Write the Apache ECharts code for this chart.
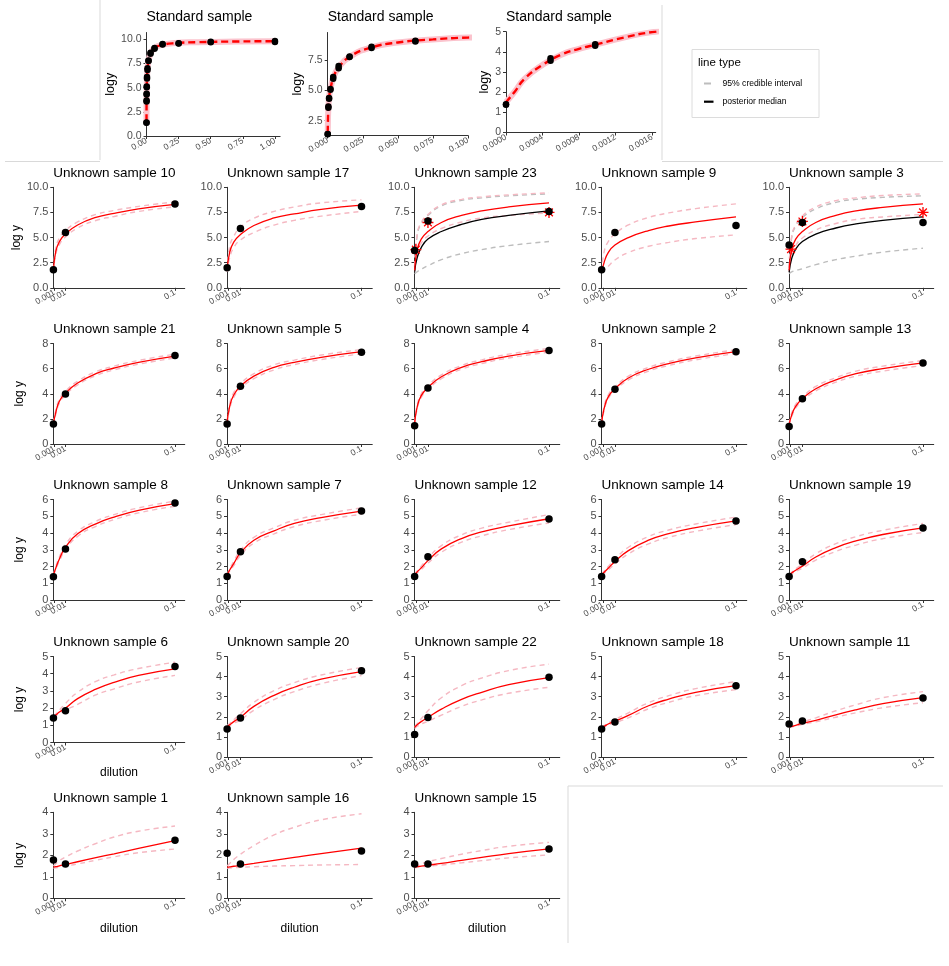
<!DOCTYPE html>
<html>
<head>
<meta charset="utf-8">
<script src="https://cdn.jsdelivr.net/npm/echarts@6/dist/echarts.min.js"></script>
<style>
  html, body { margin: 0; padding: 0; background: #fff; }
  #chart { width: 949px; height: 966px; }
</style>
</head>
<body>
<div id="chart"></div>
<script>
// ---- standard sample (duplicates per dilution) ----
const stdDilution = [0, 0.000488, 0.000977, 0.00195, 0.0039, 0.0078, 0.0156, 0.03125, 0.0625, 0.125, 0.25, 0.5, 1]
const stdLogyA = [1.38, 3.56, 4.30, 5.05, 5.95, 6.82, 7.75, 8.50, 9.03, 9.45, 9.55, 9.68, 9.72]
const stdLogyB = [1.40, 3.68, 4.38, 5.12, 6.10, 7.01, 7.80, 8.60, 9.10, 9.50, 9.60, 9.75, 9.82]
const stdCurveX = [0, 0.0001, 0.0002, 0.0004, 0.0006, 0.0008, 0.001, 0.0013, 0.0016, 0.002, 0.004, 0.008, 0.016, 0.03, 0.05, 0.075, 0.1, 0.2, 0.4, 0.7, 1.0]
const stdCurveY = [1.5, 2.05, 2.65, 3.35, 3.85, 4.15, 4.38, 4.72, 4.98, 5.15, 6.05, 6.92, 7.8, 8.5, 8.95, 9.2, 9.35, 9.58, 9.7, 9.77, 9.8]

// ---- unknown samples, in panel order (row by row) ----
const sampleNames = [
  'Unknown sample 10', 'Unknown sample 17', 'Unknown sample 23', 'Unknown sample 9', 'Unknown sample 3',
  'Unknown sample 21', 'Unknown sample 5', 'Unknown sample 4', 'Unknown sample 2', 'Unknown sample 13',
  'Unknown sample 8', 'Unknown sample 7', 'Unknown sample 12', 'Unknown sample 14', 'Unknown sample 19',
  'Unknown sample 6', 'Unknown sample 20', 'Unknown sample 22', 'Unknown sample 18', 'Unknown sample 11',
  'Unknown sample 1', 'Unknown sample 16', 'Unknown sample 15'
]
const pointX = [0.0001, 0.01, 0.1]
const pointLogY = [
  [1.8, 5.5, 8.35], [2.0, 5.9, 8.1], [3.7, 6.65, 7.6], [1.8, 5.5, 6.2], [4.27, 6.5, 6.5],
  [1.6, 3.98, 7.05], [1.6, 4.6, 7.3], [1.45, 4.46, 7.45], [1.6, 4.35, 7.35], [1.4, 3.6, 6.44],
  [1.39, 3.05, 5.79], [1.4, 2.88, 5.31], [1.4, 2.58, 4.84], [1.4, 2.4, 4.72], [1.4, 2.28, 4.3],
  [1.42, 1.84, 4.42], [1.39, 1.94, 4.29], [1.12, 1.97, 3.97], [1.39, 1.74, 3.54], [1.64, 1.79, 2.94],
  [1.78, 1.6, 2.7], [2.09, 1.6, 2.2], [1.6, 1.6, 2.29]
]
const curveX = [0.0001, 0.002, 0.005, 0.01, 0.02, 0.035, 0.05, 0.07, 0.1]
const medianLogY = [
  [1.7, 3.6, 4.6, 5.35, 6.25, 7.0, 7.4, 7.85, 8.3],
  [1.7, 3.55, 4.55, 5.3, 6.2, 6.95, 7.35, 7.8, 8.22],
  [1.75, 3.8, 4.85, 5.6, 6.5, 7.2, 7.65, 8.05, 8.45],
  [1.55, 2.55, 3.5, 4.25, 5.0, 5.7, 6.15, 6.55, 7.05],
  [1.75, 3.8, 4.85, 5.6, 6.5, 7.2, 7.65, 8.0, 8.35],
  [1.6, 2.5, 3.4, 4.05, 4.85, 5.6, 6.05, 6.5, 7.0],
  [1.7, 3.0, 3.9, 4.6, 5.4, 6.1, 6.5, 6.9, 7.35],
  [1.65, 2.95, 3.85, 4.5, 5.35, 6.1, 6.55, 7.0, 7.45],
  [1.65, 2.85, 3.75, 4.4, 5.25, 5.95, 6.4, 6.85, 7.35],
  [1.55, 2.3, 3.0, 3.6, 4.4, 5.1, 5.6, 6.0, 6.45],
  [1.5, 1.9, 2.45, 3.15, 3.95, 4.55, 4.95, 5.35, 5.75],
  [1.5, 1.79, 2.17, 2.81, 3.57, 4.13, 4.57, 4.92, 5.31],
  [1.51, 1.68, 1.92, 2.35, 3.05, 3.67, 4.06, 4.42, 4.85],
  [1.51, 1.66, 1.9, 2.3, 2.95, 3.57, 3.96, 4.32, 4.72],
  [1.5, 1.61, 1.78, 2.02, 2.57, 3.13, 3.53, 3.91, 4.3],
  [1.5, 1.6, 1.77, 2.0, 2.55, 3.1, 3.5, 3.9, 4.28],
  [1.5, 1.6, 1.76, 1.98, 2.52, 3.07, 3.47, 3.87, 4.25],
  [1.47, 1.6, 1.76, 1.97, 2.38, 2.87, 3.22, 3.6, 3.95],
  [1.5, 1.53, 1.64, 1.78, 2.07, 2.55, 2.88, 3.22, 3.55],
  [1.5, 1.52, 1.57, 1.68, 1.82, 2.1, 2.35, 2.65, 2.95],
  [1.45, 1.47, 1.51, 1.57, 1.7, 1.89, 2.07, 2.32, 2.68],
  [1.44, 1.46, 1.49, 1.53, 1.62, 1.76, 1.9, 2.08, 2.33],
  [1.45, 1.47, 1.5, 1.54, 1.62, 1.76, 1.9, 2.08, 2.3]
]
const lowerLogY = [
  [1.6, 3.3, 4.3, 5.05, 5.95, 6.7, 7.1, 7.6, 8.05],
  [1.58, 2.97, 4.0, 4.76, 5.5, 6.24, 6.71, 7.13, 7.6],
  [1.6, 3.4, 4.45, 5.15, 5.9, 6.55, 6.95, 7.2, 7.45],
  [1.51, 1.78, 2.14, 2.77, 3.51, 4.13, 4.52, 4.9, 5.26],
  [1.6, 3.2, 4.2, 4.95, 5.75, 6.4, 6.8, 7.05, 7.3],
  [1.5, 2.35, 3.25, 3.9, 4.7, 5.45, 5.9, 6.35, 6.85],
  [1.6, 2.8, 3.7, 4.4, 5.2, 5.9, 6.32, 6.72, 7.18],
  [1.55, 2.8, 3.7, 4.35, 5.2, 5.95, 6.4, 6.85, 7.3],
  [1.55, 2.7, 3.6, 4.25, 5.1, 5.8, 6.25, 6.7, 7.2],
  [1.5, 2.15, 2.85, 3.45, 4.22, 4.92, 5.4, 5.8, 6.25],
  [1.48, 1.82, 2.33, 3.0, 3.8, 4.4, 4.8, 5.2, 5.6],
  [1.48, 1.72, 2.05, 2.65, 3.4, 3.95, 4.38, 4.74, 5.12],
  [1.49, 1.62, 1.82, 2.2, 2.85, 3.45, 3.83, 4.2, 4.6],
  [1.49, 1.6, 1.8, 2.15, 2.75, 3.35, 3.74, 4.1, 4.5],
  [1.48, 1.56, 1.7, 1.9, 2.38, 2.9, 3.28, 3.66, 4.03],
  [1.48, 1.56, 1.7, 1.88, 2.22, 2.77, 3.12, 3.52, 3.9],
  [1.45, 1.55, 1.68, 1.84, 2.33, 2.86, 3.25, 3.65, 4.05],
  [1.42, 1.53, 1.64, 1.78, 2.08, 2.52, 2.84, 3.17, 3.47],
  [1.48, 1.5, 1.59, 1.7, 1.95, 2.4, 2.72, 3.05, 3.35],
  [1.48, 1.5, 1.54, 1.62, 1.75, 1.98, 2.2, 2.45, 2.7],
  [1.4, 1.42, 1.45, 1.5, 1.6, 1.77, 1.93, 2.12, 2.29],
  [1.4, 1.41, 1.42, 1.44, 1.47, 1.5, 1.52, 1.55, 1.57],
  [1.42, 1.44, 1.46, 1.49, 1.55, 1.65, 1.75, 1.88, 2.02]
]
const upperLogY = [
  [1.8, 3.9, 4.95, 5.7, 6.55, 7.3, 7.7, 8.1, 8.55],
  [1.74, 4.13, 5.12, 6.03, 6.92, 7.6, 8.04, 8.45, 8.75],
  [2.17, 5.31, 6.5, 7.3, 8.25, 8.8, 9.05, 9.25, 9.45],
  [1.65, 3.6, 4.6, 5.35, 6.25, 7.0, 7.45, 7.88, 8.35],
  [2.05, 5.12, 6.27, 7.16, 8.04, 8.68, 8.95, 9.18, 9.35],
  [1.7, 2.65, 3.55, 4.2, 5.0, 5.75, 6.2, 6.65, 7.15],
  [1.8, 3.2, 4.1, 4.8, 5.6, 6.3, 6.68, 7.08, 7.52],
  [1.75, 3.1, 4.0, 4.65, 5.5, 6.25, 6.7, 7.15, 7.6],
  [1.75, 3.0, 3.9, 4.55, 5.4, 6.1, 6.55, 7.0, 7.5],
  [1.6, 2.45, 3.15, 3.75, 4.58, 5.28, 5.8, 6.2, 6.65],
  [1.52, 1.98, 2.57, 3.3, 4.1, 4.7, 5.1, 5.5, 5.9],
  [1.52, 1.86, 2.3, 2.97, 3.74, 4.31, 4.76, 5.1, 5.5],
  [1.53, 1.74, 2.02, 2.5, 3.25, 3.89, 4.29, 4.64, 5.1],
  [1.53, 1.72, 2.0, 2.45, 3.15, 3.79, 4.18, 4.54, 4.95],
  [1.52, 1.66, 1.86, 2.15, 2.76, 3.36, 3.78, 4.16, 4.57],
  [1.52, 1.65, 1.88, 2.27, 2.92, 3.55, 3.93, 4.3, 4.67],
  [1.55, 1.66, 1.85, 2.15, 2.72, 3.3, 3.7, 4.08, 4.45],
  [1.5, 1.66, 1.9, 2.3, 2.95, 3.55, 3.93, 4.3, 4.62],
  [1.52, 1.56, 1.7, 1.87, 2.2, 2.7, 3.05, 3.4, 3.75],
  [1.52, 1.55, 1.62, 1.74, 1.95, 2.3, 2.6, 2.95, 3.25],
  [1.5, 1.6, 1.75, 1.92, 2.2, 2.55, 2.85, 3.12, 3.36],
  [1.5, 1.62, 1.8, 2.05, 2.45, 2.95, 3.3, 3.65, 3.93],
  [1.48, 1.52, 1.6, 1.7, 1.85, 2.05, 2.22, 2.42, 2.6]
]

// second fit (black / grey) and starred values, only for samples 23 and 3
const altSamples = ['Unknown sample 23', 'Unknown sample 3']
const altMedian = [
  [1.6, 3.0, 4.0, 4.85, 5.6, 6.3, 6.8, 7.2, 7.65],
  [1.55, 2.9, 3.85, 4.6, 5.35, 5.95, 6.35, 6.7, 7.05]
]
const altLower = [
  [1.4, 1.6, 1.85, 2.2, 2.8, 3.4, 3.8, 4.2, 4.6],
  [1.4, 1.58, 1.72, 1.9, 2.3, 2.8, 3.15, 3.55, 3.94]
]
const altUpper = [
  [2.1, 5.2, 6.4, 7.2, 8.15, 8.7, 8.95, 9.15, 9.35],
  [2.0, 5.0, 6.15, 7.0, 7.85, 8.5, 8.8, 9.0, 9.15]
]
const starX = [[0.001, 0.01, 0.1], [0.0015, 0.01, 0.1]]
const starLogY = [[3.8, 6.5, 7.5], [3.85, 6.6, 7.5]]

const xTickValues = [0.0001, 0.001, 0.01, 0.1]
const rowYTicks = [[0, 2.5, 5, 7.5, 10], [0, 2, 4, 6, 8], [0, 1, 2, 3, 4, 5, 6], [0, 1, 2, 3, 4, 5], [0, 1, 2, 3, 4]]
const dilutionTitled = ['Unknown sample 6', 'Unknown sample 1', 'Unknown sample 16', 'Unknown sample 15']

// ---- layout ----
const colLeft = [53.3, 227, 414.5, 601.5, 789]
const colSpan = [121.7, 134.5, 134.5, 134.5, 134]   // px for 0.1
const rowTop = [187.3, 343.5, 499.5, 656.5, 812.3]
const FONT = 'Liberation Sans, Arial, sans-serif'
const PINK = '#F5B8C2'
const GREY = '#BDBDBD'

const grid = [], xAxis = [], yAxis = [], series = [], graphic = []

const axisLine = { show: true, onZero: false, lineStyle: { color: '#333', width: 1 } }
function tick(values) { return { show: true, length: 3, customValues: values, lineStyle: { color: '#333' } } }
function pairs(xs, ys) { return xs.map((x, i) => [x, ys[i]]) }

function line(gi, xs, ys, lineStyle, z) {
  series.push({
    type: 'line', xAxisIndex: gi, yAxisIndex: gi, data: pairs(xs, ys),
    smooth: 0.5, symbol: 'none', lineStyle, z: z || 2, silent: true
  })
}
function dots(gi, xs, ys, size) {
  series.push({
    type: 'scatter', xAxisIndex: gi, yAxisIndex: gi, data: pairs(xs, ys),
    symbolSize: size, itemStyle: { color: '#000', opacity: 1 }, z: 5, silent: true
  })
}
function title(text, x, y, size) {
  graphic.push({ type: 'text', x, y, style: { text, font: `${size}px ${FONT}`, fill: '#000', verticalAlign: 'middle' } })
}

// ---- standard sample panels ----
const stdPanels = [
  { left: 146.5, top: 32.5, width: 133.6, height: 103.5, xMax: 1.04, xTicks: [0, 0.25, 0.5, 0.75, 1], xDigits: 2,
    yMin: 0, yMax: 10.7, yTicks: [0, 2.5, 5, 7.5, 10], yDigits: 1, nameGap: 29 },
  { left: 327.7, top: 32.5, width: 140.3, height: 103, xMax: 0.1, xTicks: [0, 0.025, 0.05, 0.075, 0.1], xDigits: 3,
    yMin: 1.28, yMax: 9.77, yTicks: [2.5, 5, 7.5], yDigits: 1, nameGap: 22 },
  { left: 506, top: 31.7, width: 149.7, height: 100.8, xMax: 0.00164, xTicks: [0, 0.0004, 0.0008, 0.0012, 0.0016], xDigits: 4,
    yMin: 0, yMax: 5, yTicks: [0, 1, 2, 3, 4, 5], yDigits: 0, nameGap: 15 }
]
stdPanels.forEach(p => {
  const gi = grid.length
  grid.push({ left: p.left, top: p.top, width: p.width, height: p.height })
  xAxis.push({
    type: 'value', gridIndex: gi, min: 0, max: p.xMax, splitLine: { show: false }, axisLine, axisTick: tick(p.xTicks),
    axisLabel: { customValues: p.xTicks, rotate: 30, fontSize: 8.5, color: '#4d4d4d', margin: 4, fontFamily: FONT,
      formatter: v => v.toFixed(p.xDigits) }
  })
  yAxis.push({
    type: 'value', gridIndex: gi, min: p.yMin, max: p.yMax, splitLine: { show: false }, axisLine, axisTick: tick(p.yTicks),
    axisLabel: { customValues: p.yTicks, fontSize: 10.5, color: '#4d4d4d', margin: 5, fontFamily: FONT,
      formatter: v => v.toFixed(p.yDigits) },
    name: 'logy', nameLocation: 'middle', nameRotate: 90, nameGap: p.nameGap,
    nameTextStyle: { fontSize: 12.5, color: '#000', fontFamily: FONT }
  })
  line(gi, stdCurveX, stdCurveY, { color: '#FBC3CD', width: 6 }, 2)
  line(gi, stdCurveX, stdCurveY, { color: '#FF0000', width: 2.4, type: [7, 4] }, 3)
  dots(gi, stdDilution, stdLogyA, 6.5)
  dots(gi, stdDilution, stdLogyB, 6.5)
  title('Standard sample', p.left, 17.5, 14)
})

// ---- unknown sample panels ----
const starSymbol = 'path://M10 0 L10 20 M0 10 L20 10 M3 3 L17 17 M3 17 L17 3'
sampleNames.forEach((name, k) => {
  const r = Math.floor(k / 5), c = k % 5
  const dil = dilutionTitled.includes(name)
  const gi = grid.length
  const top = rowTop[r]
  grid.push({ left: colLeft[c], top, width: colSpan[c] * 1.08, height: dil ? 86 : 100.5 })
  xAxis.push({
    type: 'value', gridIndex: gi, min: 0, max: 0.108, splitLine: { show: false }, axisLine, axisTick: tick(xTickValues),
    axisLabel: { customValues: xTickValues, rotate: 30, fontSize: 8.5, color: '#4d4d4d', margin: 4, fontFamily: FONT,
      formatter: v => String(v) },
    name: dil ? 'dilution' : '', nameLocation: 'middle', nameGap: 24,
    nameTextStyle: { fontSize: 12, color: '#000', fontFamily: FONT }
  })
  yAxis.push({
    type: 'value', gridIndex: gi, min: 0, max: rowYTicks[r][rowYTicks[r].length - 1], splitLine: { show: false },
    axisLine, axisTick: tick(rowYTicks[r]),
    axisLabel: { customValues: rowYTicks[r], fontSize: 11, color: '#4d4d4d', margin: 5, fontFamily: FONT,
      formatter: v => (r === 0 ? v.toFixed(1) : String(v)) },
    name: c === 0 ? 'log y' : '', nameLocation: 'middle', nameRotate: 90, nameGap: 28,
    nameTextStyle: { fontSize: 12, color: '#000', fontFamily: FONT }
  })
  const a = altSamples.indexOf(name)
  const dash = { width: 1.4, type: [5, 4] }
  if (a >= 0) {
    line(gi, curveX, altLower[a], { ...dash, color: GREY })
    line(gi, curveX, altUpper[a], { ...dash, color: GREY })
  }
  line(gi, curveX, lowerLogY[k], { ...dash, color: PINK })
  line(gi, curveX, upperLogY[k], { ...dash, color: PINK })
  if (a >= 0) line(gi, curveX, altMedian[a], { color: '#000', width: 1.3 }, 3)
  line(gi, curveX, medianLogY[k], { color: '#FF0000', width: 1.3 }, 3)
  if (a >= 0) {
    series.push({
      type: 'scatter', xAxisIndex: gi, yAxisIndex: gi, data: pairs(starX[a], starLogY[a]),
      symbol: starSymbol, symbolSize: 11, itemStyle: { color: 'transparent', borderColor: '#FF0000', borderWidth: 1.3, opacity: 1 },
      z: 4, silent: true
    })
  }
  dots(gi, pointX, pointLogY[k], 7.5)
  title(name, colLeft[c], top - 14, 13.5)
})

// ---- legend ----
graphic.push(
  { type: 'rect', shape: { x: 692, y: 49.5, width: 127, height: 68 }, style: { fill: '#fff', stroke: '#dcdcdc', lineWidth: 1 } },
  { type: 'text', x: 698, y: 63, style: { text: 'line type', font: `11.5px ${FONT}`, fill: '#000', verticalAlign: 'middle' } },
  { type: 'line', shape: { x1: 704, y1: 83.5, x2: 711, y2: 83.5 }, style: { stroke: GREY, lineWidth: 2 } },
  { type: 'text', x: 722.5, y: 83.5, style: { text: '95% credible interval', font: `8.6px ${FONT}`, fill: '#000', verticalAlign: 'middle' } },
  { type: 'line', shape: { x1: 704, y1: 101.7, x2: 713.5, y2: 101.7 }, style: { stroke: '#000', lineWidth: 2.2 } },
  { type: 'text', x: 722.5, y: 101.7, style: { text: 'posterior median', font: `8.6px ${FONT}`, fill: '#000', verticalAlign: 'middle' } }
)

// ---- light frame lines between figure parts ----
const frame = [[100, 0, 100, 160], [5, 161.5, 100, 161.5], [662, 5, 662, 160], [662, 161.5, 943, 161.5],
  [568, 786, 568, 943], [568, 786, 943, 786]]
frame.forEach(([x1, y1, x2, y2]) => graphic.push({
  type: 'line', shape: { x1, y1, x2, y2 }, style: { stroke: '#d9d9d9', lineWidth: 1 }, z: -1
}))

const chart = echarts.init(document.getElementById('chart'))
chart.setOption({
  animation: false,
  backgroundColor: '#fff',
  textStyle: { fontFamily: FONT },
  grid, xAxis, yAxis, series, graphic
})
</script>
</body>
</html>
